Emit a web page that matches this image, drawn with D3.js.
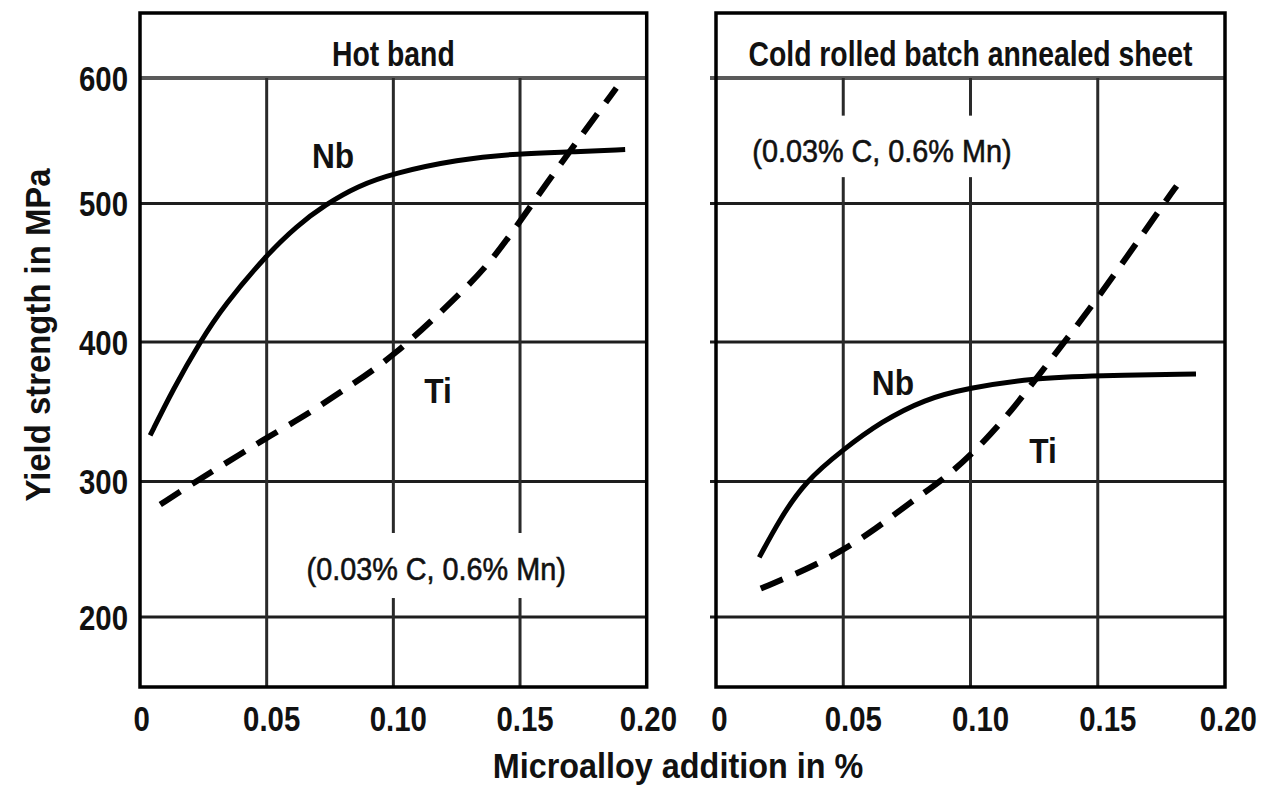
<!DOCTYPE html>
<html>
<head>
<meta charset="utf-8">
<script src="https://cdn.jsdelivr.net/npm/d3@7"></script>
<style>
  body { margin: 0; background: #fff; }
  svg { display: block; }
  text { font-family: "Liberation Sans", Arial, Helvetica, sans-serif; fill: #111; }
</style>
</head>
<body>
<svg id="chart" width="1273" height="786"></svg>
<script>
// Axis ticks
const xTickValues = [0, 0.05, 0.10, 0.15, 0.20];
const xTickLabels = ["0", "0.05", "0.10", "0.15", "0.20"];
const yTickValues = [200, 300, 400, 500, 600];
const yTickLabels = ["200", "300", "400", "500", "600"];

const panelTitles = ["Hot band", "Cold rolled batch annealed sheet"];
const compositionNote = "(0.03% C, 0.6% Mn)";
const xAxisTitle = "Microalloy addition in %";
const yAxisTitle = "Yield strength in MPa";

// Hot band: yield strength (MPa) vs. microalloy addition (%)
const hotNbX = [0.004, 0.013, 0.024, 0.033, 0.050, 0.062, 0.073, 0.086, 0.100, 0.125, 0.150, 0.170, 0.1915];
const hotNbY = [333, 366, 401, 426, 463, 484, 499, 514, 524, 535, 540, 541, 543];
const hotTiX = [0.008, 0.022, 0.040, 0.0515, 0.066, 0.079, 0.100, 0.127, 0.137, 0.147, 0.160, 0.176, 0.188];
const hotTiY = [283, 300, 320, 333, 348, 364, 389, 436, 455, 479, 515, 559, 592];

// Cold rolled batch annealed sheet
const coldNbX = [0.017, 0.025, 0.035, 0.050, 0.065, 0.082, 0.099, 0.124, 0.150, 0.1886];
const coldNbY = [244, 272, 300, 323, 343, 359, 367, 374, 376, 377];
const coldTiX = [0.0176, 0.0366, 0.0497, 0.0628, 0.0759, 0.089, 0.1008, 0.112, 0.1205, 0.1305, 0.150, 0.176, 0.181];
const coldTiY = [221, 236, 249, 265, 284, 301, 320, 342, 361, 385, 431, 500, 514];

const zip = (xs, ys) => xs.map((x, i) => ({ x, y: ys[i] }));

const svg = d3.select("#chart");
svg.append("rect").attr("width", 1273).attr("height", 786).attr("fill", "#fff");

// Shared strength axis (the printed grid is slightly uneven, so breakpoints are used)
const y = d3.scaleLinear()
  .domain([150, 200, 300, 400, 500, 600, 650])
  .range([687, 617, 481.5, 342, 203.5, 78, 13]);

function addText(g, str, x, yPos, opt) {
  const t = g.append("text")
    .attr("transform", `translate(${x},${yPos})${opt.rotate ? ` rotate(${opt.rotate})` : ""} scale(${opt.sx || 1},1)`)
    .attr("text-anchor", opt.anchor || "middle")
    .attr("font-size", opt.size)
    .attr("font-weight", opt.weight || "bold")
    .text(str);
  if (opt.stroke) t.attr("stroke", "#111").attr("stroke-width", opt.stroke);
  return t;
}

const panels = [
  {
    range: [140, 646.7], title: panelTitles[0], tickDx: 5, outerTicks: false,
    nb: zip(hotNbX, hotNbY), ti: zip(hotTiX, hotTiY),
    note: { x: 0.1169, y: 227, box: [0.063, 0.171, 262, 214] },
    nbLabel: { x: 0.0762, y: 528 }, tiLabel: { x: 0.1176, y: 356 },
    yLabels: true
  },
  {
    range: [716, 1225], title: panelTitles[1], tickDx: 10, outerTicks: true,
    nb: zip(coldNbX, coldNbY), ti: zip(coldTiX, coldTiY),
    note: { x: 0.0652, y: 533, box: [0.013, 0.1185, 570, 521] },
    nbLabel: { x: 0.0695, y: 362 }, tiLabel: { x: 0.1285, y: 313 },
    yLabels: false
  }
];

panels.forEach(p => {
  const x = d3.scaleLinear().domain([0, 0.20]).range(p.range);
  const g = svg.append("g");
  const x0 = p.range[0], x1 = p.range[1];

  // horizontal grid lines
  g.selectAll("line.h").data(yTickValues).join("line")
    .attr("x1", p.outerTicks ? x0 - 6 : x0).attr("x2", x1)
    .attr("y1", d => y(d)).attr("y2", d => y(d))
    .attr("stroke", d => d === 600 ? "#5a5a5a" : "#1e1e1e")
    .attr("stroke-width", d => d === 600 ? 4 : 3);

  // vertical grid lines below the title strip
  g.selectAll("line.v").data(xTickValues.slice(1, -1)).join("line")
    .attr("x1", d => x(d)).attr("x2", d => x(d))
    .attr("y1", y(600)).attr("y2", y(150))
    .attr("stroke", "#2a2a2a").attr("stroke-width", 3);

  // white patch behind the composition note
  const b = p.note.box;
  g.append("rect")
    .attr("x", x(b[0])).attr("width", x(b[1]) - x(b[0]))
    .attr("y", y(b[2])).attr("height", y(b[3]) - y(b[2]))
    .attr("fill", "#fff");

  // frame
  g.append("rect")
    .attr("x", x0).attr("y", y(650))
    .attr("width", x1 - x0).attr("height", y(150) - y(650))
    .attr("fill", "none").attr("stroke", "#000").attr("stroke-width", 3.5);

  const line = d3.line().x(d => x(d.x)).y(d => y(d.y)).curve(d3.curveBasis);

  g.append("path").attr("d", line(p.nb))
    .attr("fill", "none").attr("stroke", "#000").attr("stroke-width", 5)
    .attr("stroke-linecap", "butt");
  g.append("path").attr("d", line(p.ti))
    .attr("fill", "none").attr("stroke", "#000").attr("stroke-width", 6)
    .attr("stroke-dasharray", "24,14");

  // titles and annotations
  addText(g, p.title, (x0 + x1) / 2, 66, { size: 35, sx: 0.81 });
  addText(g, compositionNote, x(p.note.x), y(p.note.y), { size: 32, weight: "normal", sx: 0.9, stroke: 0.6 });
  addText(g, "Nb", x(p.nbLabel.x), y(p.nbLabel.y), { size: 36, sx: 0.88 });
  addText(g, "Ti", x(p.tiLabel.x), y(p.tiLabel.y), { size: 36, sx: 0.88 });

  // x tick labels
  xTickValues.forEach((v, i) => {
    const dx = (i === 0 || i === xTickValues.length - 1) ? p.tickDx / 3 : p.tickDx;
    addText(g, xTickLabels[i], x(v) + dx, 731, { size: 35, sx: 0.84 });
  });

  if (p.yLabels) {
    yTickValues.forEach((v, i) => {
      addText(g, yTickLabels[i], 128, y(v) + 12.5, { size: 35, sx: 0.84, anchor: "end" });
    });
  }
});

// axis titles
addText(svg, xAxisTitle, 678, 778, { size: 35, sx: 0.925 });
addText(svg, yAxisTitle, 50, 335, { size: 35, sx: 0.94, rotate: -90 });
</script>
</body>
</html>
